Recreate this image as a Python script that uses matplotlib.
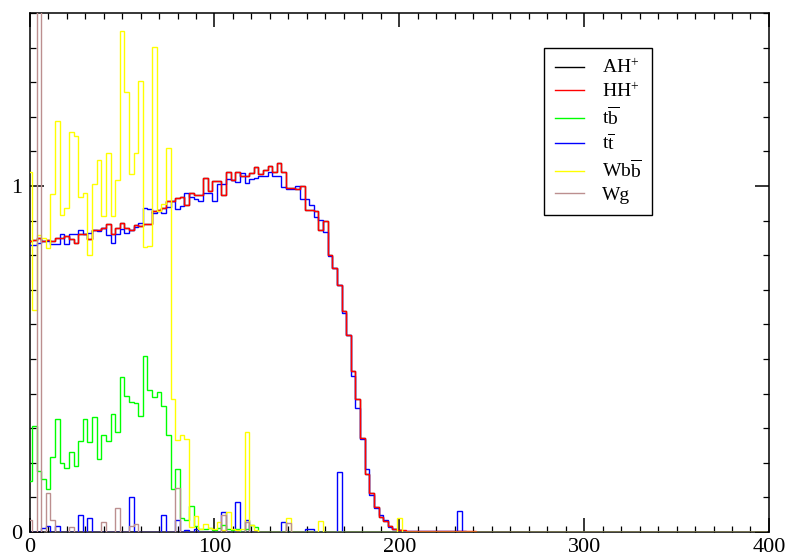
import numpy as np
import matplotlib
matplotlib.use("Agg")
import matplotlib.pyplot as plt
from matplotlib.lines import Line2D
from matplotlib.ticker import MultipleLocator

plt.rcParams['font.family'] = ['Liberation Serif', 'DejaVu Serif']
plt.rcParams['mathtext.fontset'] = 'custom'
plt.rcParams['mathtext.rm'] = 'Liberation Serif'
plt.rcParams['mathtext.it'] = 'Liberation Serif:italic'

# Histogram binning: 2.5 wide bins centred on multiples of 2.5
BIN_WIDTH = 2.5
FIRST_EDGE = -1.25
N_BINS = 160

# HH+ signal, bins 0..100
hh_plus = [0.84, 0.845, 0.85, 0.84, 0.845, 0.84, 0.85, 0.85, 0.855, 0.848,
           0.835, 0.86, 0.862, 0.848, 0.874, 0.874, 0.879, 0.889, 0.86, 0.879,
           0.894, 0.879, 0.874, 0.887, 0.884, 0.889, 0.889, 0.927, 0.932, 0.937,
           0.957, 0.957, 0.966, 0.969, 0.946, 0.98, 0.975, 0.975, 1.024, 0.985,
           1.014, 1.014, 0.975, 1.041, 1.018, 1.04, 1.03, 1.03, 1.038, 1.056,
           1.036, 1.046, 1.057, 1.04, 1.067, 1.04, 0.995, 0.995, 0.99, 0.999,
           0.932, 0.932, 0.927, 0.874, 0.898, 0.802, 0.763, 0.715, 0.638, 0.57,
           0.464, 0.384, 0.271, 0.168, 0.114, 0.073, 0.043, 0.031, 0.016, 0.008,
           0.006, 0.005, 0.004, 0.004, 0.003, 0.003, 0.003, 0.003, 0.002, 0.002,
           0.002, 0.002, 0.002, 0.002, 0.002, 0.002, 0.002, 0.001, 0.001, 0.001,
           0.001]

# AH+ signal: coincides with HH+ bin for bin
ah_plus = [0.84, 0.845, 0.85, 0.84, 0.845, 0.84, 0.85, 0.85, 0.855, 0.848,
           0.835, 0.86, 0.862, 0.848, 0.874, 0.874, 0.879, 0.889, 0.86, 0.879,
           0.894, 0.879, 0.874, 0.887, 0.884, 0.889, 0.889, 0.927, 0.932, 0.937,
           0.957, 0.957, 0.966, 0.969, 0.946, 0.98, 0.975, 0.975, 1.024, 0.985,
           1.014, 1.014, 0.975, 1.041, 1.018, 1.04, 1.03, 1.03, 1.038, 1.056,
           1.036, 1.046, 1.057, 1.04, 1.067, 1.04, 0.995, 0.995, 0.99, 0.999,
           0.932, 0.932, 0.927, 0.874, 0.898, 0.802, 0.763, 0.715, 0.638, 0.57,
           0.464, 0.384, 0.271, 0.168, 0.114, 0.073, 0.043, 0.031, 0.016, 0.008,
           0.006]

# t tbar background, bins 0..100
ttbar = [0.83, 0.83, 0.835, 0.84, 0.84, 0.831, 0.831, 0.86, 0.831, 0.86,
         0.86, 0.874, 0.862, 0.865, 0.872, 0.871, 0.879, 0.858, 0.834, 0.86,
         0.876, 0.865, 0.874, 0.882, 0.892, 0.937, 0.934, 0.922, 0.927, 0.922,
         0.94, 0.957, 0.934, 0.942, 0.98, 0.969, 0.963, 0.958, 0.98, 0.98,
         0.958, 1.007, 1.007, 1.021, 1.017, 1.011, 1.038, 1.009, 1.019, 1.024,
         1.028, 1.03, 1.04, 1.03, 1.03, 0.997, 0.992, 0.992, 0.999, 0.961,
         0.961, 0.946, 0.911, 0.901, 0.866, 0.797, 0.763, 0.715, 0.633, 0.57,
         0.451, 0.358, 0.268, 0.181, 0.107, 0.068, 0.05, 0.035, 0.014, 0.008,
         0.005, 0.004, 0.004, 0.003, 0.003, 0.003, 0.002, 0.002, 0.002, 0.002,
         0.002, 0.002, 0.002, 0.002, 0.002, 0.001, 0.001, 0.001, 0.001, 0.001,
         0.001]

# low-statistics t tbar sample (bin index -> content)
ttbar_low_bins = [3, 4, 6, 11, 13, 22, 29, 32, 34, 36, 42, 45, 47, 55, 60, 61, 67, 93]
ttbar_low_vals = [0.012, 0.017, 0.017, 0.048, 0.04, 0.10, 0.048, 0.035, 0.007,
                  0.01, 0.058, 0.087, 0.035, 0.03, 0.008, 0.01, 0.172, 0.061]

# t bbar background, bins 0..50
tbbar = [0.146, 0.307, 0.177, 0.153, 0.125, 0.216, 0.327, 0.199, 0.184, 0.23,
         0.192, 0.263, 0.327, 0.26, 0.332, 0.211, 0.279, 0.263, 0.341, 0.29,
         0.449, 0.392, 0.375, 0.372, 0.334, 0.51, 0.41, 0.389, 0.406, 0.365,
         0.279, 0.124, 0.182, 0.039, 0.036, 0.076, 0.017, 0.008, 0.01, 0.012,
         0.005, 0.012, 0.02, 0.01, 0.005, 0.01, 0.0, 0.008, 0.02, 0.015,
         0.0]

# W b bbar background, bins 0..49 plus isolated bins
wbbbar = [1.04, 0.643, 0.858, 0.85, 0.82, 0.978, 1.189, 0.917, 0.936, 1.155,
          1.145, 0.967, 0.981, 0.80, 1.005, 1.075, 0.914, 1.095, 0.912, 1.017,
          1.449, 1.271, 1.035, 1.095, 1.304, 0.824, 0.827, 1.403, 0.928, 0.947,
          1.109, 0.383, 0.267, 0.279, 0.27, 0.015, 0.047, 0.01, 0.023, 0.012,
          0.01, 0.03, 0.005, 0.057, 0.01, 0.005, 0.008, 0.289, 0.02, 0.005]
wbbbar_extra_bins = [56, 63, 80]
wbbbar_extra_vals = [0.04, 0.033, 0.041]

# W g background (bin index -> content)
wg_bins = [0, 2, 4, 5, 9, 16, 19, 22, 23, 32, 42, 47, 56]
wg_vals = [0.035, 2.4, 0.112, 0.035, 0.0135, 0.03, 0.069, 0.016, 0.022,
           0.126, 0.05, 0.03, 0.025]

legend_labels = [r'AH$^{+}$', r'HH$^{+}$', r't$\overline{\mathrm{b}}$',
                 r't$\overline{\mathrm{t}}$', r'Wb$\overline{\mathrm{b}}$', 'Wg']
colors = ['#000000', '#ff0000', '#00ff00', '#0000ff', '#ffff00', '#bc8f8f']


def filled(values):
    out = np.zeros(N_BINS)
    out[:len(values)] = values
    return out


def sparse(bins, vals, base=None):
    out = np.zeros(N_BINS) if base is None else base.copy()
    out[np.asarray(bins)] = vals
    return out


edges = FIRST_EDGE + BIN_WIDTH * np.arange(N_BINS + 1)

fig = plt.figure(figsize=(7.89, 5.56), dpi=100)
ax = fig.add_axes([0.0376, 0.0432, 0.937, 0.9334])

lw = 1.0
ax.stairs(filled(ah_plus), edges, color=colors[0], lw=lw, zorder=2)
ax.stairs(filled(ttbar), edges, color=colors[3], lw=lw, zorder=3)
ax.stairs(sparse(ttbar_low_bins, ttbar_low_vals), edges, color=colors[3], lw=lw, zorder=3)
ax.stairs(filled(hh_plus), edges, color=colors[1], lw=lw, zorder=4)
ax.stairs(filled(tbbar), edges, color=colors[2], lw=lw, zorder=5)
ax.stairs(sparse(wbbbar_extra_bins, wbbbar_extra_vals, filled(wbbbar)), edges,
          color=colors[4], lw=lw, zorder=6)
ax.stairs(sparse(wg_bins, wg_vals), edges, color=colors[5], lw=lw, zorder=7)

ax.set_xlim(0, 400)
ax.set_ylim(0, 1.5)
ax.xaxis.set_major_locator(MultipleLocator(100))
ax.xaxis.set_minor_locator(MultipleLocator(10))
ax.yaxis.set_major_locator(MultipleLocator(1))
ax.yaxis.set_minor_locator(MultipleLocator(0.1))
ax.tick_params(which='both', direction='in', top=True, right=True, labelsize=16)
ax.tick_params(which='major', length=10, width=1.1)
ax.tick_params(which='minor', length=4.5, width=0.9)
ax.tick_params(axis='x', pad=4)
ax.tick_params(axis='y', pad=5)
for sp in ax.spines.values():
    sp.set_linewidth(1.1)

handles = [Line2D([], [], color=c, lw=lw) for c in colors]
leg = ax.legend(handles, legend_labels, loc='upper right',
                bbox_to_anchor=(0.842, 0.9326), borderaxespad=0,
                fontsize=14, frameon=True, fancybox=False, framealpha=1,
                edgecolor='black', handlelength=1.5, handletextpad=0.9,
                labelspacing=0.25, borderpad=0.55)
leg.get_frame().set_linewidth(1.0)

fig.savefig('out.png', dpi=100)
